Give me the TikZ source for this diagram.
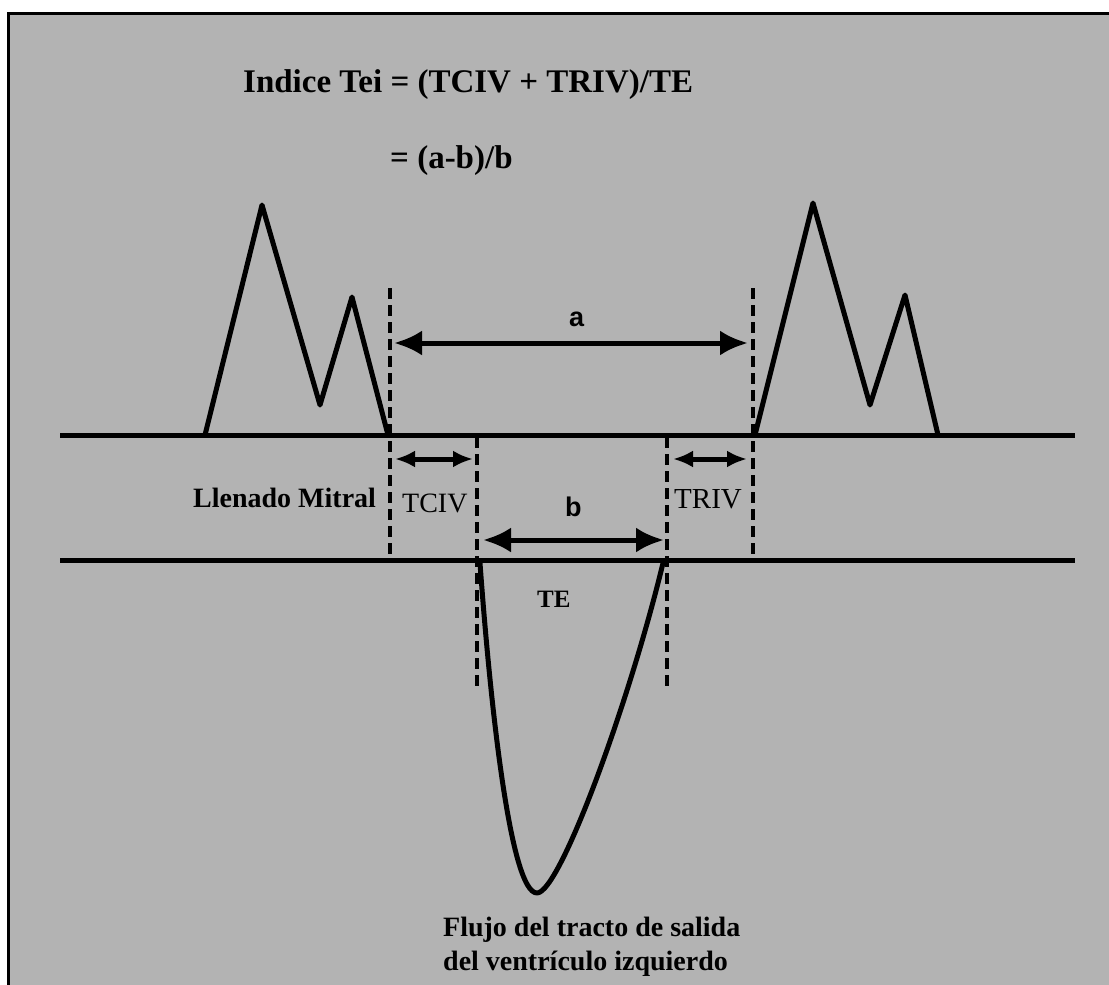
\documentclass[tikz,border=0pt]{standalone}
\usepackage{fontspec}
\setmainfont{Liberation Serif}
\newfontfamily\arialfont{Liberation Sans}
\usetikzlibrary{arrows.meta}
\definecolor{bg}{RGB}{179,179,179}
\tikzset{
  base/.style={line width=5pt, line cap=round, line join=round},
  dashv/.style={line width=3.5pt, dash pattern=on 11pt off 6pt},
  bigarrow/.style={line width=5pt, {Latex[length=28pt,width=25pt]}-{Latex[length=28pt,width=25pt]}},
  smallarrow/.style={line width=5pt, {Latex[length=20pt,width=17pt]}-{Latex[length=20pt,width=17pt]}},
  lbl/.style={inner sep=0pt, anchor=base west, text=black},
}
\begin{document}
\begin{tikzpicture}[x=1pt,y=-1pt]
\useasboundingbox (0,0) rectangle (1109,985);
\fill[white] (0,0) rectangle (1109,985);
\fill[bg] (8,13) rectangle (1109,985);
\draw[line width=3pt] (8.5,985) -- (8.5,13.5) -- (1109,13.5);

% baselines
\coordinate (L1a) at (60,435); \coordinate (L1b) at (1075,435);
\coordinate (L2a) at (60,560); \coordinate (L2b) at (1075,560);
\draw[line width=5pt] (L1a) -- (L1b);
\draw[line width=5pt] (L2a) -- (L2b);

% mitral waves
\draw[base] (205,435) -- (262,205) -- (320,405) -- (352,297) -- (388,435);
\draw[base] (755,435) -- (813,203) -- (870,405) -- (905,295) -- (938,435);

% dashed verticals
\coordinate (d1t) at (390,288); \coordinate (d1b) at (390,558);
\coordinate (d2t) at (753,288); \coordinate (d2b) at (753,558);
\coordinate (d3t) at (477,437); \coordinate (d3b) at (477,690);
\coordinate (d4t) at (667,437); \coordinate (d4b) at (667,690);
\draw[dashv] (d1t) -- (d1b);
\draw[dashv] (d2t) -- (d2b);
\draw[dashv] (d3t) -- (d3b);
\draw[dashv] (d4t) -- (d4b);

% arrows
\coordinate (aL) at (394,343); \coordinate (aR) at (748,343);
\draw[bigarrow] (aL) -- (aR);
\coordinate (bL) at (483,540); \coordinate (bR) at (664,540);
\draw[bigarrow] (bL) -- (bR);
\coordinate (cL) at (395,459); \coordinate (cR) at (473,459);
\draw[smallarrow] (cL) -- (cR);
\coordinate (tL) at (673,459); \coordinate (tR) at (747,459);
\draw[smallarrow] (tL) -- (tR);

% ejection curve
\coordinate (eS) at (480,563); \coordinate (eB) at (537,893); \coordinate (eE) at (663,563);
\draw[base] (eS) .. controls (490,700) and (510,893) .. (eB)
                 .. controls (560,893) and (630,700) .. (eE);

% texts
\node[lbl, font=\fontsize{33}{36}\selectfont\bfseries] (title) at (243,92) {Indice Tei = (TCIV + TRIV)/TE};
\node[lbl, font=\fontsize{33}{36}\selectfont\bfseries] (eq2) at (390,168) {= (a-b)/b};
\node[lbl, font=\fontsize{27}{30}\selectfont\arialfont\bfseries] (la) at (569,326) {a};
\node[lbl, font=\fontsize{27}{30}\selectfont\arialfont\bfseries] (lb) at (565,516) {b};
\node[lbl, font=\fontsize{28}{32}\selectfont\bfseries] (llen) at (193,507) {Llenado Mitral};
\node[lbl, font=\fontsize{28}{32}\selectfont] (tciv) at (402,512) {TCIV};
\node[lbl, font=\fontsize{29}{32}\selectfont] (triv) at (674,508) {TRIV};
\node[lbl, font=\fontsize{25}{30}\selectfont\bfseries] (te) at (537,607) {TE};
\node[lbl, font=\fontsize{28}{32}\selectfont\bfseries] (f1) at (443,936) {Flujo del tracto de salida};
\node[lbl, font=\fontsize{28}{32}\selectfont\bfseries] (f2) at (443,970) {del ventrículo izquierdo};
\end{tikzpicture}
\end{document}
